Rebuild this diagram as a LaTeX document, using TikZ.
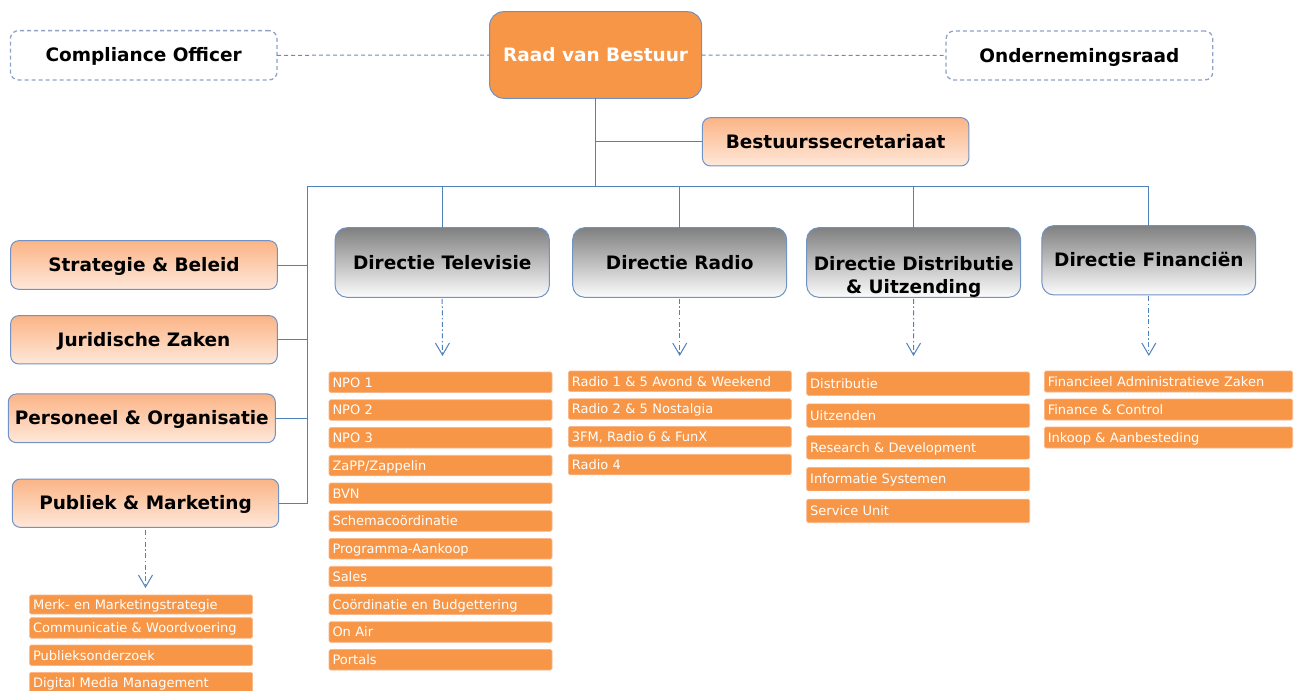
\documentclass[tikz,border=0pt]{standalone}
\usepackage{fontspec}
\setmainfont{DejaVu Sans}
\usetikzlibrary{arrows.meta}
\definecolor{orangeF}{HTML}{F79646}
\definecolor{itemline}{HTML}{FAB68A}
\definecolor{boxline}{HTML}{7092C4}
\definecolor{conn}{HTML}{4F81BD}
\definecolor{dashline}{HTML}{8EA3C6}
\definecolor{dashconn}{HTML}{6F8AB8}
\definecolor{peachtop}{HTML}{FBB486}
\definecolor{peachbot}{HTML}{FEE8DA}
\definecolor{greytop}{HTML}{808080}
\definecolor{greybot}{HTML}{FCFCFC}
\tikzset{
  bigfont/.style={font=\fontsize{18.5}{23.3}\selectfont\bfseries},
  boxbase/.style={bigfont, inner sep=0pt, outer sep=0pt, text height=13.8pt, text depth=0.5pt, align=center},
  dashbox/.style={boxbase, draw=dashline, line width=1.3pt, dash pattern=on 4pt off 3pt, rounded corners=8pt, fill=white},
  raadbox/.style={boxbase, draw=boxline, line width=1pt, fill=orangeF, text=white, rounded corners=14pt},
  peachbox/.style={boxbase, draw=boxline, line width=1pt, top color=peachtop, bottom color=peachbot, rounded corners=8pt},
  dirbox/.style={boxbase, draw=boxline, line width=1pt, top color=greytop, bottom color=greybot, rounded corners=12pt},
  dirtext/.style={bigfont, inner sep=0pt, align=center},
  item/.style={fill=orangeF, draw=itemline, line width=0.6pt, rounded corners=1.5pt, text=white,
    font=\fontsize{13}{15}\selectfont, inner xsep=3.5pt, inner ysep=0pt, outer sep=0pt, align=left,
    text height=10.75pt, text depth=1.25pt, anchor=north west},
  stditem/.style={item, text width=216pt, minimum height=20.5pt},
  distitem/.style={item, text width=216pt, minimum height=23.5pt},
  finitem/.style={item, text width=241.4pt, minimum height=21pt},
  link/.style={draw=conn, line width=0.9pt},
  dlink/.style={draw=dashconn, line width=1pt, dash pattern=on 4pt off 3pt},
  sub/.style={draw=conn, line width=1pt, dash pattern=on 5pt off 2.5pt on 1.5pt off 2.5pt,
    -{Straight Barb[length=12pt,width=14pt,line width=1pt]}}
}
\begin{document}
\begin{tikzpicture}[x=1pt,y=-1pt]
\useasboundingbox (0,0) rectangle (1297,690);

% top row
\node[dashbox, minimum width=266.6pt, minimum height=49.3pt] (comp) at (143.7,55.3) {Compliance Officer};
\node[raadbox, minimum width=212pt, minimum height=86.6pt] (raad) at (595.6,55) {Raad van Bestuur};
\node[dashbox, minimum width=266.8pt, minimum height=49pt] (onr) at (1079.4,55.5) {Ondernemingsraad};
\node[peachbox, minimum width=266.5pt, minimum height=48.3pt] (bsec) at (835.7,141.8) {Bestuurssecretariaat};

% staff boxes
\node[peachbox, minimum width=266.6pt, minimum height=48.6pt] (strat) at (144,265) {Strategie \& Beleid};
\node[peachbox, minimum width=266.6pt, minimum height=48.3pt] (jur) at (144,339.8) {Juridische Zaken};
\node[peachbox, minimum width=267pt, minimum height=48.7pt] (pers) at (141.8,418.3) {Personeel \& Organisatie};
\node[peachbox, minimum width=266.4pt, minimum height=48.3pt] (publ) at (145.5,503.2) {Publiek \& Marketing};

% directies
\node[dirbox, minimum width=214.3pt, minimum height=69.6pt] (dtv) at (442.2,262.5) {Directie Televisie};
\node[dirbox, minimum width=214pt, minimum height=69.6pt] (drad) at (679.7,262.5) {Directie Radio};
\node[dirbox, minimum width=214pt, minimum height=69.6pt] (ddis) at (913.7,262.5) {};
\node[dirtext, anchor=base] (ddistext) at (913.7,293.3) {Directie Distributie\\\& Uitzending};
\node[dirbox, minimum width=213.7pt, minimum height=69.3pt] (dfin) at (1148.8,260.3) {Directie Financiën};

% connectors
\coordinate (busL) at (307.5,186);
\coordinate (busM) at (595.6,186);
\coordinate (busR) at (1148.8,186);
\coordinate (vbot) at (307.5,503.2);
\draw[dlink] (comp.east) -- (raad.west);
\draw[dlink] (raad.east) -- (onr.west);
\draw[link] (raad.south) -- (busM);
\draw[link] (raad.south |- bsec.west) -- (bsec.west);
\draw[link] (busL) -- (busR) -- (dfin.north);
\draw[link] (dtv.north |- busL) -- (dtv.north);
\draw[link] (drad.north |- busL) -- (drad.north);
\draw[link] (ddis.north |- busL) -- (ddis.north);
\draw[link] (busL) -- (vbot);
\draw[link] (strat.east) -- (strat.east -| busL);
\draw[link] (jur.east) -- (jur.east -| busL);
\draw[link] (pers.east) -- (pers.east -| busL);
\draw[link] (publ.east) -- (vbot);

% dash-dot arrows
\coordinate (tvtip) at (442.5,356);
\coordinate (radtip) at (679.7,356);
\coordinate (distip) at (913.5,356);
\coordinate (fintip) at (1148.8,356);
\coordinate (pubtip) at (145.5,588);
\draw[sub] (dtv.south) ++(0,1.5) -- (tvtip);
\draw[sub] (drad.south) ++(0,1.5) -- (radtip);
\draw[sub] (ddis.south) ++(0,1.5) -- (distip);
\draw[sub] (dfin.south) ++(0,1.5) -- (fintip);
\draw[sub] (publ.south) ++(0,3) -- (pubtip);

% lists
\foreach \t [count=\i from 0] in {NPO 1, NPO 2, NPO 3, ZaPP/Zappelin, BVN, Schemacoördinatie,
  Programma-Aankoop, Sales, Coördinatie en Budgettering, On Air, Portals}
  \node[stditem] (tv\i) at (329,{372+27.75*\i}) {\t};
\foreach \t [count=\i from 0] in {Radio 1 \& 5 Avond \& Weekend, Radio 2 \& 5 Nostalgia,
  {3FM, Radio 6 \& FunX}, Radio 4}
  \node[stditem] (rad\i) at (568.3,{371+27.75*\i}) {\t};
\foreach \t [count=\i from 0] in {Distributie, Uitzenden, Research \& Development,
  Informatie Systemen, Service Unit}
  \node[distitem] (dis\i) at (806.7,{372+31.8*\i}) {\t};
\foreach \t [count=\i from 0] in {Financieel Administratieve Zaken, Finance \& Control,
  Inkoop \& Aanbesteding}
  \node[finitem] (fin\i) at (1044.3,{371+28*\i}) {\t};
\node[item, text width=216pt, minimum height=19pt] (pub0) at (29.6,595) {Merk- en Marketingstrategie};
\node[stditem] (pub1) at (29.6,617.7) {Communicatie \& Woordvoering};
\node[stditem] (pub2) at (29.6,645) {Publieksonderzoek};
\node[stditem] (pub3) at (29.6,672.3) {Digital Media Management};
\end{tikzpicture}
\end{document}
